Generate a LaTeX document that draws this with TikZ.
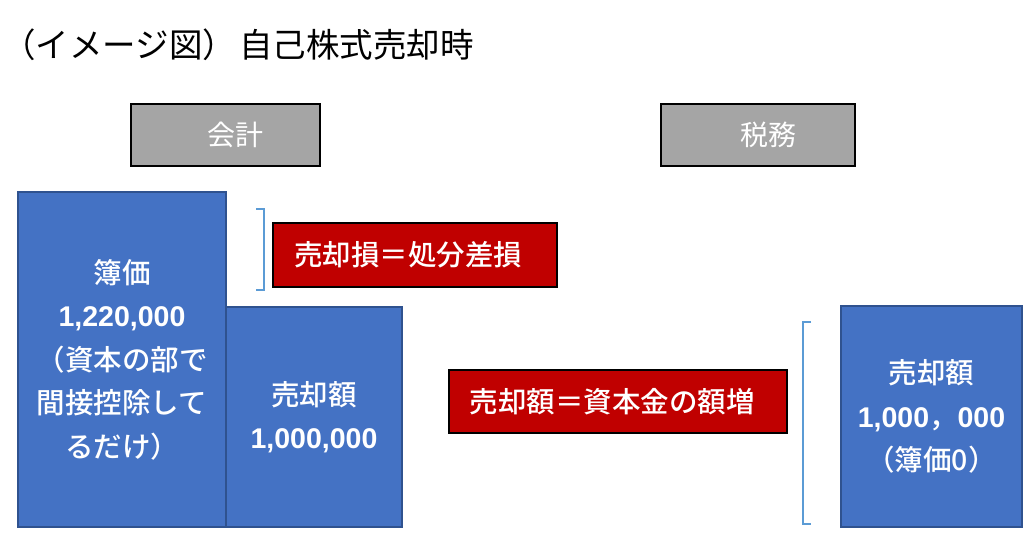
\documentclass[tikz,border=0pt]{standalone}
\usepackage{fontspec}
\setmainfont{Noto Sans CJK JP}
\newfontfamily\medfont{Noto Sans CJK JP Medium}
\newfontfamily\numfont{Liberation Sans}
\definecolor{bfill}{HTML}{4472C4}
\definecolor{bdraw}{HTML}{2F528F}
\definecolor{gfill}{HTML}{A5A5A5}
\definecolor{rfill}{HTML}{C00000}
\definecolor{brk}{HTML}{5B9BD5}
\newcommand\nm[1]{{\numfont\bfseries #1}}
\begin{document}
\begin{tikzpicture}[x=1pt,y=-1pt,
  gbox/.style={draw=black, fill=gfill, line width=1.5pt, inner sep=0pt},
  bbox/.style={draw=bdraw, fill=bfill, line width=1.5pt, inner sep=0pt},
  rbox/.style={draw=black, fill=rfill, line width=1.5pt, inner sep=0pt},
  wtext/.style={text=white, inner sep=0pt, align=center},
  btxt/.style={wtext, font=\fontsize{28.5}{43.5}\medfont},
  gtxt/.style={wtext, font=\fontsize{28}{34}\selectfont},
  brack/.style={draw=brk, line width=1.2pt}]
\useasboundingbox (0,0) rectangle (1024,533);
\fill[white] (0,0) rectangle (1024,533);
% title
\node[anchor=west, inner sep=0pt, font=\fontsize{33.5}{38}\selectfont] (title) at (2,45) {（イメージ図）\hspace{3pt}自己株式売却時};
% header boxes
\node[gbox, minimum width=189, minimum height=62] (kaikei) at (225.5,135) {};
\node[gtxt] (kaikeiT) at ([xshift=10pt]kaikei.center) {会計};
\node[gbox, minimum width=194, minimum height=62] (zeimu) at (758,135) {};
\node[gtxt] (zeimuT) at ([xshift=10pt]zeimu.center) {税務};
% blue boxes
\node[bbox, minimum width=208, minimum height=335] (bv) at (122,359.5) {};
\node[btxt] (bvT) at (bv.center) {簿価\\\nm{1,220,000}\\（資本の部で\\間接控除して\\るだけ）};
\node[bbox, minimum width=176, minimum height=220] (sale1) at (314,417) {};
\node[btxt] (sale1T) at (sale1.center) {売却額\\\nm{1,000,000}};
\node[bbox, minimum width=181, minimum height=221] (sale2) at (931.5,416.5) {};
\node[btxt] (sale2T) at (sale2.center) {売却額\\\nm{1,000}，\nm{000}\\（簿価0）};
% red boxes
\node[rbox, minimum width=284, minimum height=64] (loss) at (415,255) {};
\node[btxt] (lossT) at ([xshift=-7pt]loss.center) {売却損＝処分差損};
\node[rbox, minimum width=338, minimum height=63] (incr) at (618,401.5) {};
\node[btxt] (incrT) at ([xshift=-6pt]incr.center) {売却額＝資本金の額増};
% brackets
\coordinate (b1a) at (256,209);
\coordinate (b1b) at (264,209);
\coordinate (b1c) at (264,290);
\coordinate (b1d) at (256,290);
\draw[brack] (b1a) -- (b1b) -- (b1c) -- (b1d);
\coordinate (b2a) at (811,322);
\coordinate (b2b) at (803,322);
\coordinate (b2c) at (803,524);
\coordinate (b2d) at (811,524);
\draw[brack] (b2a) -- (b2b) -- (b2c) -- (b2d);
\end{tikzpicture}
\end{document}
